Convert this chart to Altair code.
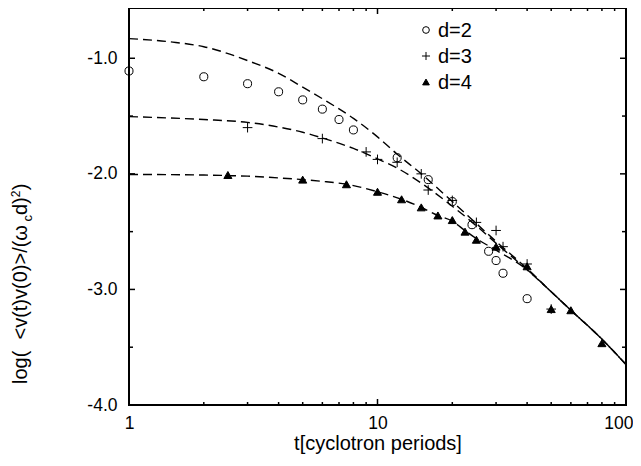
import altair as alt
import pandas as pd

# ---------------- data ----------------
series_names = ["d=2", "d=3", "d=4"]

d2_t = [1, 2, 3, 4, 5, 6, 7, 8, 12, 16, 20, 24, 28, 30, 32, 40]
d2_v = [-1.11, -1.16, -1.22, -1.29, -1.36, -1.44, -1.53, -1.62, -1.86, -2.05, -2.24, -2.44, -2.67, -2.75, -2.86, -3.08]

d3_t = [3, 6, 9, 10, 12, 15, 16, 20, 25, 30, 32, 40, 50]
d3_v = [-1.60, -1.695, -1.81, -1.875, -1.90, -2.00, -2.14, -2.23, -2.42, -2.49, -2.63, -2.78, -3.17]

d4_t = [2.5, 5, 7.5, 10, 12.5, 15, 17.5, 20, 22.5, 25, 30, 40, 50, 60, 80]
d4_v = [-2.01, -2.05, -2.09, -2.155, -2.22, -2.29, -2.36, -2.40, -2.50, -2.57, -2.63, -2.80, -3.17, -3.18, -3.465]

# theory curves (dashed)
c2_t = [1, 1.5, 2, 3, 4, 5, 6, 8, 10, 12, 15, 20, 25, 30, 40, 50, 60, 80, 100]
c2_v = [-0.83, -0.86, -0.90, -1.02, -1.13, -1.25, -1.35, -1.52, -1.68, -1.83, -2.00, -2.24, -2.43, -2.585, -2.82, -3.02, -3.18, -3.43, -3.65]

c3_t = [1, 2, 3, 4, 5, 6, 8, 10, 12, 15, 20, 25, 30, 40, 50, 60, 80, 100]
c3_v = [-1.505, -1.53, -1.555, -1.595, -1.64, -1.69, -1.78, -1.87, -1.95, -2.08, -2.28, -2.45, -2.60, -2.83, -3.02, -3.18, -3.43, -3.65]

c4_t = [1, 2, 2.5, 3, 4, 5, 6, 7.5, 10, 12.5, 15, 17.5, 20, 22.5, 25, 30, 40, 50, 60, 80, 100]
c4_v = [-2.005, -2.01, -2.015, -2.02, -2.035, -2.05, -2.065, -2.09, -2.155, -2.22, -2.29, -2.36, -2.41, -2.49, -2.56, -2.66, -2.83, -3.02, -3.18, -3.43, -3.65]

x_labels = [1, 10, 100]
x_minor = [2, 3, 4, 5, 6, 7, 8, 9, 20, 30, 40, 50, 60, 70, 80, 90]
y_labels = [-1.0, -2.0, -3.0, -4.0]
y_minor = [-1.5, -2.5, -3.5]

x_title = "t[cyclotron periods]"
NB = "\u00a0"
y_title_parts = ["log(" + NB + NB + "<v(t)v(0)>/(\u03c9", "c", "d)", "2", NB + NB + ")"]

# ---------------- build tables ----------------
pts = pd.DataFrame({
    "t": d2_t + d3_t + d4_t,
    "v": d2_v + d3_v + d4_v,
    "series": [series_names[0]] * len(d2_t) + [series_names[1]] * len(d3_t) + [series_names[2]] * len(d4_t),
})
curves = pd.DataFrame({
    "t": c2_t + c3_t + c4_t,
    "v": c2_v + c3_v + c4_v,
    "curve": ["c2"] * len(c2_t) + ["c3"] * len(c3_t) + ["c4"] * len(c4_t),
})

W, H = 497, 397
FONT = "Liberation Sans"
LFS = 17.5   # tick labels
TFS = 20     # titles / legend

x_scale = alt.Scale(type="log", domain=[1, 100], nice=False)
y_scale = alt.Scale(domain=[-4, -0.565], nice=False, zero=False)
PLUS = "M-1.2,0L1.2,0M0,-1.2L0,1.2"
SHAPES = ["circle", PLUS, "triangle-up"]
FILLS = ["transparent", "transparent", "black"]

x_axis = alt.Axis(values=x_labels, format="~g", ticks=False, domain=False, grid=False,
                  labelFlush=False,
                  labelAlign={"condition": {"test": "datum.value >= 100", "value": "right"}, "value": "center"},
                  labelOffset={"condition": {"test": "datum.value >= 100", "value": 7}, "value": 0},
                  labelFont=FONT, labelFontSize=LFS, labelColor="black", labelPadding=9,
                  title=x_title, titleFont=FONT, titleFontSize=TFS, titleFontWeight="normal",
                  titleColor="black", titlePadding=2)
y_axis = alt.Axis(values=y_labels, ticks=False, domain=False, grid=False,
                  labelExpr="replace(format(datum.value, '.1f'), '\u2212', '-')",
                  labelFont=FONT, labelFontSize=LFS, labelColor="black", labelPadding=12,
                  title=None)

X = alt.X("t:Q", scale=x_scale, axis=x_axis)
Y = alt.Y("v:Q", scale=y_scale, axis=y_axis)

lines = alt.Chart(curves).mark_line(
    color="black", strokeWidth=1.4, strokeDash=[9, 5], interpolate="monotone"
).encode(x=X, y=Y, detail="curve:N")

points = alt.Chart(pts).mark_point(
    filled=True, stroke="black", strokeWidth=1, size=65, opacity=1
).encode(
    x=X, y=Y,
    shape=alt.Shape("series:N", scale=alt.Scale(domain=series_names, range=SHAPES), legend=None),
    fill=alt.Fill("series:N", scale=alt.Scale(domain=series_names, range=FILLS), legend=None),
)

# inward tick marks on all four sides
def xticks(vals, length):
    df = pd.DataFrame({"t": vals})
    base = alt.Chart(df).mark_rule(color="black", strokeWidth=1.5)
    bottom = base.encode(x=X, y=alt.value(H), y2=alt.value(H - length))
    top = base.encode(x=X, y=alt.value(0), y2=alt.value(length))
    return [bottom, top]

def yticks(vals, length):
    df = pd.DataFrame({"v": vals})
    base = alt.Chart(df).mark_rule(color="black", strokeWidth=1.5)
    left = base.encode(y=Y, x=alt.value(0), x2=alt.value(length))
    right = base.encode(y=Y, x=alt.value(W), x2=alt.value(W - length))
    return [left, right]

ticks = xticks(x_labels, 6) + xticks(x_minor, 3) + yticks(y_labels, 6) + yticks(y_minor, 4)

# legend (top right inside the frame)
one = pd.DataFrame({"k": [0]})
legend_layers = []
for i, name in enumerate(series_names):
    ly = 22 + 26 * i
    legend_layers.append(
        alt.Chart(one).mark_point(shape=SHAPES[i], filled=True, fill=FILLS[i], stroke="black",
                                  strokeWidth=1, size=45, opacity=1).encode(
            x=alt.value(297), y=alt.value(ly)))
    legend_layers.append(
        alt.Chart(one).mark_text(text=name, align="left", baseline="middle", font=FONT,
                                 fontSize=TFS, color="black").encode(
            x=alt.value(309), y=alt.value(ly + 1)))

# y title composed of pieces (subscript c, superscript 2)
def ytxt(text, x, y, size):
    return alt.Chart(one).mark_text(text=text, angle=270, align="left", baseline="alphabetic",
                                    font=FONT, fontSize=size, color="black").encode(
        x=alt.value(x), y=alt.value(y))

ty0 = 376
bx = -102
w_main = 162.5
w_c = 6.5
w_d = 17.8
w_2 = 7
ytitle = [
    ytxt(y_title_parts[0], bx, ty0, TFS),
    ytxt(y_title_parts[1], bx + 5, ty0 - w_main, 13),
    ytxt(y_title_parts[2], bx, ty0 - w_main - w_c, TFS),
    ytxt(y_title_parts[3], bx - 7, ty0 - w_main - w_c - w_d, 12),
    ytxt(y_title_parts[4], bx, ty0 - w_main - w_c - w_d - w_2, TFS),
]

chart = alt.layer(lines, *ticks, points, *legend_layers, *ytitle).properties(
    width=W, height=H,
    autosize=alt.AutoSizeParams(type="none"),
    padding={"left": 121, "top": 0, "right": 7, "bottom": 49},
).configure_view(stroke="black", strokeWidth=2)

chart.save("out.html", embed_options={"renderer": "svg", "actions": False})
